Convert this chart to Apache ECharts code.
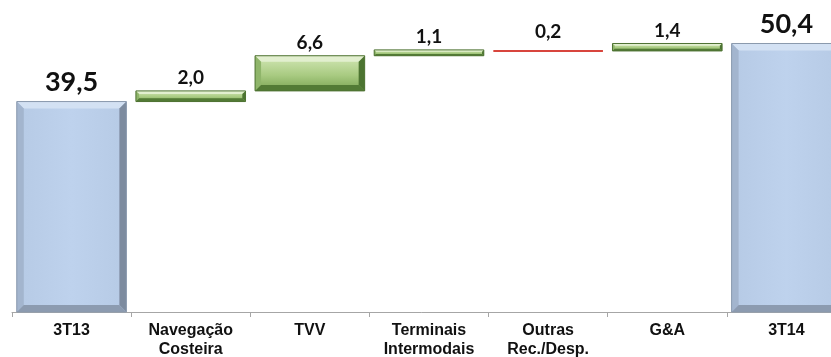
<!DOCTYPE html>
<html>
<head>
<meta charset="utf-8">
<script src="https://cdn.jsdelivr.net/npm/echarts@6/dist/echarts.min.js"></script>
<style>
  html, body { margin: 0; padding: 0; background: #ffffff; }
  #chart { width: 831px; height: 357px; }
</style>
</head>
<body>
<div id="chart"></div>
<script>
// Waterfall: EBITDA bridge 3T13 -> 3T14
const categories = ['3T13', 'Navegação\nCosteira', 'TVV', 'Terminais\nIntermodais', 'Outras\nRec./Desp.', 'G&A', '3T14'];
const values = [39.5, 2.0, 6.6, 1.1, -0.2, 1.4, 50.4];
const isTotal = [true, false, false, false, false, false, true];

// Build [index, low, high, value] spans from running totals
const spans = [];
let running = 0;
values.forEach((v, i) => {
  if (isTotal[i]) {
    spans.push([i, 0, v, v]);
    running = v;
  } else {
    const a = running, b = running + v;
    spans.push([i, Math.min(a, b), Math.max(a, b), v]);
    running = b;
  }
});

const LG = echarts.graphic.LinearGradient;
const blue = {
  face: new LG(0, 0, 1, 0, [{ offset: 0, color: '#B6CAE5' }, { offset: 0.5, color: '#BED2ED' }, { offset: 1, color: '#B6CAE5' }]),
  top: '#D3E1F3', left: '#A3B5CE', right: '#7D8B9F', bottom: '#8C9BB0', edge: '#8A99AD'
};
const green = {
  face: new LG(0, 0, 0, 1, [{ offset: 0, color: '#D3E7B6' }, { offset: 0.55, color: '#A9CB82' }, { offset: 1, color: '#7AA453' }]),
  top: '#E2EFCF', left: '#8FB56A', right: '#4C7431', bottom: '#527A35', edge: '#4E7232'
};

function poly(points, fill) {
  return { type: 'polygon', shape: { points: points }, style: { fill: fill } };
}

function fmt(v) {
  return Math.abs(v).toFixed(1).replace('.', ',');
}

function renderItem(params, api) {
  const i = api.value(0), lo = api.value(1), hi = api.value(2), v = api.value(3);
  const total = isTotal[i];
  const pTop = api.coord([i, hi]);
  const pBot = api.coord([i, lo]);
  const bw = api.size([1, 0])[0] * 0.92;
  const cx = pTop[0];
  const x0 = cx - bw / 2, x1 = cx + bw / 2;
  const y0 = pTop[1], y1 = pBot[1];
  const children = [];
  let gap;
  if (v < 0) {
    // decreases are drawn as a thin red rule
    children.push({ type: 'rect', shape: { x: x0, y: y0, width: bw, height: Math.max(2, y1 - y0) }, style: { fill: '#D8453D' } });
    gap = 18;
  } else {
    const h = y1 - y0;
    const b = Math.min(total ? 7 : 6, h * 0.3);
    const pal = total ? blue : green;
    children.push({ type: 'rect', shape: { x: x0, y: y0, width: bw, height: h }, style: { fill: pal.face } });
    children.push(poly([[x0, y0], [x1, y0], [x1 - b, y0 + b], [x0 + b, y0 + b]], pal.top));
    children.push(poly([[x0, y0], [x0 + b, y0 + b], [x0 + b, y1 - b], [x0, y1]], pal.left));
    children.push(poly([[x1, y0], [x1, y1], [x1 - b, y1 - b], [x1 - b, y0 + b]], pal.right));
    children.push(poly([[x0, y1], [x0 + b, y1 - b], [x1 - b, y1 - b], [x1, y1]], pal.bottom));
    children.push({ type: 'rect', shape: { x: x0, y: y0, width: bw, height: h }, style: { fill: null, stroke: pal.edge, lineWidth: 1 } });
    gap = total ? 19 : 13;
  }
  children.push({
    type: 'text',
    style: {
      text: fmt(v), x: cx, y: y0 - gap,
      align: 'center', verticalAlign: 'middle',
      fontFamily: 'Lato', fontWeight: 'bold',
      fontSize: total ? 27 : 19, fill: '#111111'
    }
  });
  return { type: 'group', children: children };
}

const chart = echarts.init(document.getElementById('chart'));
chart.setOption({
  animation: false,
  backgroundColor: '#ffffff',
  grid: { left: 12, width: 834, top: 3, bottom: 45, containLabel: false, outerBoundsMode: 'none' },
  xAxis: {
    type: 'category',
    data: categories,
    boundaryGap: true,
    axisLine: { lineStyle: { color: '#A6A6A6', width: 1 } },
    axisTick: { show: true, length: 5, lineStyle: { color: '#A6A6A6' } },
    axisLabel: {
      interval: 0, margin: 9,
      fontFamily: 'Liberation Sans', fontWeight: 'bold', fontSize: 16,
      lineHeight: 19, color: '#111111'
    }
  },
  yAxis: { type: 'value', min: 0, max: 58, show: false },
  series: [{
    type: 'custom',
    renderItem: renderItem,
    encode: { x: 0, y: [1, 2] },
    data: spans,
    clip: false
  }]
});
</script>
</body>
</html>
